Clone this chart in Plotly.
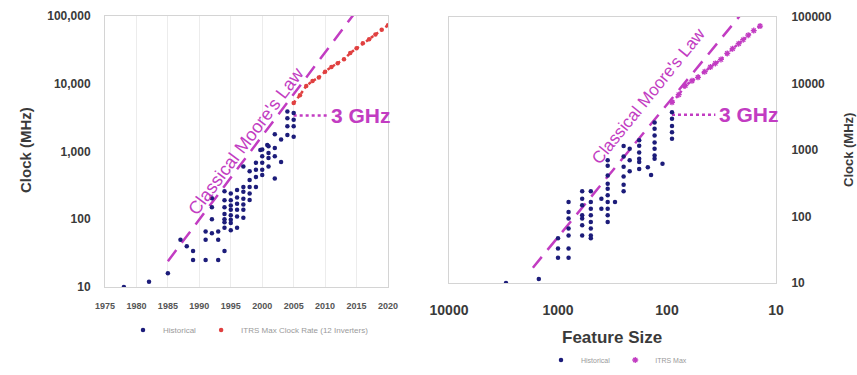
import plotly.graph_objects as go
import math

# ---------------- data ----------------
# Left chart: clock (MHz) vs year
hist_year = [1978, 1982, 1985, 1987, 1988, 1989, 1989, 1991, 1991, 1991, 1992, 1992, 1992, 1992,
             1993, 1993, 1993, 1994,
             1994, 1994, 1994, 1994, 1994, 1994, 1994,
             1995, 1995, 1995, 1995, 1995, 1995, 1995, 1995,
             1996, 1996, 1996, 1996, 1996, 1996,
             1997, 1997, 1997, 1997, 1997, 1997, 1997,
             1998, 1998, 1998, 1998, 1998,
             1999, 1999, 1999, 1999, 1999.7,
             2000, 2000, 2000, 2000, 2000, 2000.8,
             2001, 2001, 2001, 2001,
             2002, 2002, 2002, 2002,
             2003, 2003,
             2004, 2004, 2004, 2004,
             2005, 2005, 2005, 2005]
hist_clock = [10, 12, 16, 50, 40, 34, 25, 25, 66, 50, 62, 100, 150, 205,
              66, 50, 25, 34,
              260, 190, 150, 120, 100, 90, 75,
              240, 190, 160, 138, 115, 98, 88, 69,
              270, 210, 170, 138, 110, 75,
              300, 255, 200, 165, 138, 105, 600,
              510, 380, 300, 240, 193,
              680, 540, 420, 300, 1050,
              1070, 850, 680, 540, 450, 1250,
              1200, 950, 800, 600,
              1800, 1130, 850, 400,
              1500, 700,
              3900, 3100, 2350, 1750,
              3700, 2950, 2350, 1650]

itrs_year = [2005, 2006, 2007, 2008, 2009, 2010, 2011, 2012, 2013, 2014, 2015, 2016, 2017, 2018, 2019, 2020]
itrs_clock = [5204, 6783, 9285, 10972, 12369, 15079, 17658, 20065, 22980, 28356, 33403, 39683, 45535, 53207, 62443, 73122]

moore_year = [1985, 2015]
moore_clock = [24, 120000]

ghz_year = [2005, 2010.5]
ghz_clock = [3400, 3400]

# Right chart: clock (MHz) vs feature size (nm)
hist_feat = [3000, 1500, 1000, 1000, 1000,
             800, 800, 800, 800, 800, 800, 800,
             600, 600, 600, 600, 600, 600, 600,
             500, 500, 500, 500, 500, 500, 500, 500,
             400, 400,
             350, 350, 350, 350, 350, 350, 350, 350, 350, 350,
             300,
             250, 250, 250, 250, 250, 250,
             220, 220, 220,
             180, 180, 180, 180, 180, 180,
             150, 140,
             130, 130, 130, 130, 130, 130, 130,
             110,
             90, 90, 90, 90, 90]
hist_clock_r = [10, 11.5, 47, 33, 24,
                165, 117, 93, 66, 52, 33, 24,
                240, 185, 147, 104, 93, 74, 52,
                240, 165, 131, 104, 83, 66, 52, 47,
                185, 131,
                700, 580, 415, 310, 262, 208, 165, 131, 104, 83,
                165,
                1150, 800, 560, 400, 300, 240,
                1040, 700, 480,
                1400, 1160, 920, 740, 660, 520,
                550, 420,
                2600, 2080, 1650, 1300, 1040, 830, 740,
                620,
                3700, 2940, 2300, 1850, 1470]

itrs_feat = [90, 78, 68, 59, 52, 45, 40, 36, 32, 28, 25, 22, 20, 18, 16, 14]
itrs_clock_r = itrs_clock

moore_feat = [1700, 20]
moore_clock_r = [17, 120000]

ghz_feat = [90, 36]
ghz_clock_r = [3400, 3400]

y_ticks = [10, 100, 1000, 10000, 100000]
y_ticktext_left = ["10", "100", "1,000", "10,000", "100,000"]
y_ticktext_right = ["10", "100", "1000", "10000", "100000"]
x_ticks_left = [1975, 1980, 1985, 1990, 1995, 2000, 2005, 2010, 2015, 2020]
x_ticks_right = [10000, 1000, 100, 10]

# ---------------- styles ----------------
NAVY = "#1c1c7a"
RED = "#e04040"
MAG = "#c23cc2"
FONT = "Liberation Sans"
TICKC = "#3a3a3a"

fig = go.Figure()

# left
fig.add_trace(go.Scatter(x=moore_year, y=moore_clock, mode="lines",
                         line=dict(color=MAG, width=2.5, dash="14px,9px"),
                         showlegend=False, xaxis="x", yaxis="y"))
fig.add_trace(go.Scatter(x=ghz_year, y=ghz_clock, mode="lines",
                         line=dict(color=MAG, width=2.5, dash="dot"),
                         showlegend=False, xaxis="x", yaxis="y"))
fig.add_trace(go.Scatter(x=hist_year, y=hist_clock, mode="markers", name="Historical",
                         marker=dict(color=NAVY, size=4.5), xaxis="x", yaxis="y", legend="legend"))
fig.add_trace(go.Scatter(x=itrs_year, y=itrs_clock, mode="lines",
                         line=dict(color=RED, width=2.5, dash="dot"),
                         showlegend=False, xaxis="x", yaxis="y"))
fig.add_trace(go.Scatter(x=itrs_year, y=itrs_clock, mode="markers",
                         name="ITRS Max Clock Rate (12 Inverters)",
                         marker=dict(color=RED, size=4.5), xaxis="x", yaxis="y", legend="legend"))

# right
fig.add_trace(go.Scatter(x=moore_feat, y=moore_clock_r, mode="lines",
                         line=dict(color=MAG, width=2.5, dash="14px,9px"),
                         showlegend=False, xaxis="x2", yaxis="y2"))
fig.add_trace(go.Scatter(x=ghz_feat, y=ghz_clock_r, mode="lines",
                         line=dict(color=MAG, width=2.5, dash="dot"),
                         showlegend=False, xaxis="x2", yaxis="y2"))
fig.add_trace(go.Scatter(x=hist_feat, y=hist_clock_r, mode="markers", name="Historical",
                         marker=dict(color=NAVY, size=4.5), xaxis="x2", yaxis="y2", legend="legend2"))
fig.add_trace(go.Scatter(x=itrs_feat, y=itrs_clock_r, mode="lines",
                         line=dict(color=MAG, width=2.5, dash="dot"),
                         showlegend=False, xaxis="x2", yaxis="y2"))
fig.add_trace(go.Scatter(x=itrs_feat, y=itrs_clock_r, mode="markers", name="ITRS Max",
                         marker=dict(color=MAG, size=5, symbol="asterisk-open",
                                     line=dict(color=MAG, width=1.3)),
                         xaxis="x2", yaxis="y2", legend="legend2"))

W, H = 857, 375
def px(x):
    return x / W
def py(y):
    return 1 - y / H

axis_common = dict(showline=True, mirror=True, linecolor="#d4d4d4", linewidth=1,
                   zeroline=False, ticks="outside", tickcolor="rgba(0,0,0,0)", automargin=False)

fig.update_layout(
    width=W, height=H,
    margin=dict(l=0, r=0, t=0, b=0, autoexpand=False),
    paper_bgcolor="white", plot_bgcolor="white",
    font=dict(family=FONT, color=TICKC),
    xaxis=dict(domain=[px(105), px(388)], range=[1975, 2020], anchor="y",
               tickvals=x_ticks_left, ticktext=[str(v) for v in x_ticks_left],
               tickfont=dict(size=9, weight="bold", color="#555"), ticklen=10,
               showgrid=True, gridcolor="#ececec", gridwidth=1, **axis_common),
    yaxis=dict(domain=[py(287), py(16)], type="log", range=[1, 5], anchor="x",
               tickvals=y_ticks, ticktext=y_ticktext_left,
               tickfont=dict(size=12, weight="bold"), ticklen=11,
               showgrid=False, **axis_common),
    xaxis2=dict(domain=[px(449), px(776)], type="log", range=[4, 1], anchor="y2",
                tickvals=x_ticks_right, ticktext=[str(v) for v in x_ticks_right],
                tickfont=dict(size=14, weight="bold"), ticklen=14,
                showgrid=False, **axis_common),
    yaxis2=dict(domain=[py(283), py(17)], type="log", range=[1, 5], anchor="x2", side="right",
                tickvals=y_ticks, ticktext=y_ticktext_right,
                tickfont=dict(size=12, weight="bold"), ticklen=12,
                showgrid=False, **axis_common),
    legend=dict(orientation="h", x=px(123), y=py(330), xanchor="left", yanchor="middle",
                font=dict(size=8, color="#9a9a9a"), itemwidth=30, bgcolor="rgba(0,0,0,0)"),
    legend2=dict(orientation="h", x=px(541), y=py(360), xanchor="left", yanchor="middle",
                 font=dict(size=7, color="#9a9a9a"), itemwidth=30, bgcolor="rgba(0,0,0,0)"),
    showlegend=True,
)

annotations = [
    dict(text="Classical Moore's Law", x=1997.4, y=math.log10(1450), xref="x", yref="y",
         textangle=-53, showarrow=False, font=dict(size=18, color=MAG, family=FONT),
         xanchor="center", yanchor="middle"),
    dict(text="3 GHz", x=2010.6, y=math.log10(3400), xref="x", yref="y", showarrow=False,
         font=dict(size=21, color=MAG, family=FONT, weight="bold"), xanchor="left", yanchor="middle"),
    dict(text="Classical Moore's Law", x=2.174, y=3.81, xref="x2", yref="y2",
         textangle=-51, showarrow=False, font=dict(size=17, color=MAG, family=FONT),
         xanchor="center", yanchor="middle"),
    dict(text="3 GHz", x=1.541, y=math.log10(3400), xref="x2", yref="y2", showarrow=False,
         font=dict(size=21, color=MAG, family=FONT, weight="bold"), xanchor="left", yanchor="middle"),
    dict(text="Clock (MHz)", x=px(25), y=py(150), xref="paper", yref="paper", textangle=-90,
         showarrow=False, font=dict(size=15, color=TICKC, family=FONT, weight="bold"),
         xanchor="center", yanchor="middle"),
    dict(text="Clock (MHz)", x=px(848), y=py(150), xref="paper", yref="paper", textangle=-90,
         showarrow=False, font=dict(size=13, color=TICKC, family=FONT, weight="bold"),
         xanchor="center", yanchor="middle"),
    dict(text="Feature Size", x=px(612), y=py(337), xref="paper", yref="paper",
         showarrow=False, font=dict(size=17, color=TICKC, family=FONT, weight="bold"),
         xanchor="center", yanchor="middle"),
]
fig.update_layout(annotations=annotations)

fig.write_html("out.html", config={"displayModeBar": False},
               post_script="document.body.style.margin='0px';document.body.style.overflow='hidden';")
